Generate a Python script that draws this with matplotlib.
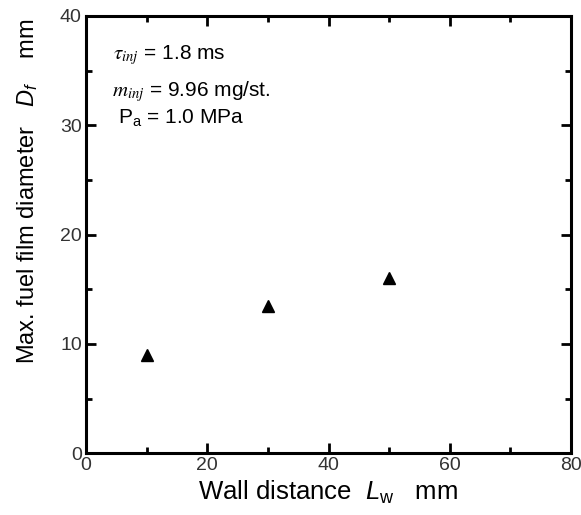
import matplotlib
matplotlib.use('Agg')
import matplotlib.pyplot as plt
from matplotlib.ticker import MultipleLocator

plt.rcParams['font.family'] = ['Liberation Sans', 'DejaVu Sans']
plt.rcParams['mathtext.fontset'] = 'custom'
plt.rcParams['mathtext.rm'] = 'Liberation Sans'
plt.rcParams['mathtext.it'] = 'Liberation Sans:italic'

# wall distance (mm) vs max. fuel film diameter (mm)
wall_distance = [10, 30, 50]
film_diameter = [9.0, 13.5, 16.0]

fig = plt.figure(figsize=(5.81, 5.15), dpi=100)
ax = fig.add_axes([0.148, 0.120, 0.835, 0.849])

ax.plot(wall_distance, film_diameter, linestyle='none', marker='^',
        color='black', markersize=9)

ax.set_xlim(0, 80)
ax.set_ylim(0, 40)
ax.xaxis.set_major_locator(MultipleLocator(20))
ax.xaxis.set_minor_locator(MultipleLocator(10))
ax.yaxis.set_major_locator(MultipleLocator(10))
ax.yaxis.set_minor_locator(MultipleLocator(5))
ax.tick_params(which='both', direction='in', top=True, right=True,
               width=2, labelsize=14, labelcolor='#333333', pad=3)
ax.tick_params(which='major', length=7)
ax.tick_params(which='minor', length=4)
for s in ax.spines.values():
    s.set_linewidth(2.2)

ax.set_xlabel('Wall distance  $L_{\\rm w}$   mm', fontsize=18.5, labelpad=3)
ax.set_ylabel('Max. fuel film diameter   $D_f$    mm', fontsize=17)
ax.yaxis.set_label_coords(-0.095, 0.60)

ax.text(0.056, 0.911, r'$\tau_{inj}$ = 1.8 ms', transform=ax.transAxes,
        fontsize=15, va='center', math_fontfamily='stix')
ax.text(0.054, 0.826, r'$m_{inj}$ = 9.96 mg/st.', transform=ax.transAxes,
        fontsize=15, va='center', math_fontfamily='stix')
ax.text(0.066, 0.766, r'P$_{\rm a}$ = 1.0 MPa', transform=ax.transAxes,
        fontsize=15, va='center')

plt.savefig('out.png', dpi=100)
